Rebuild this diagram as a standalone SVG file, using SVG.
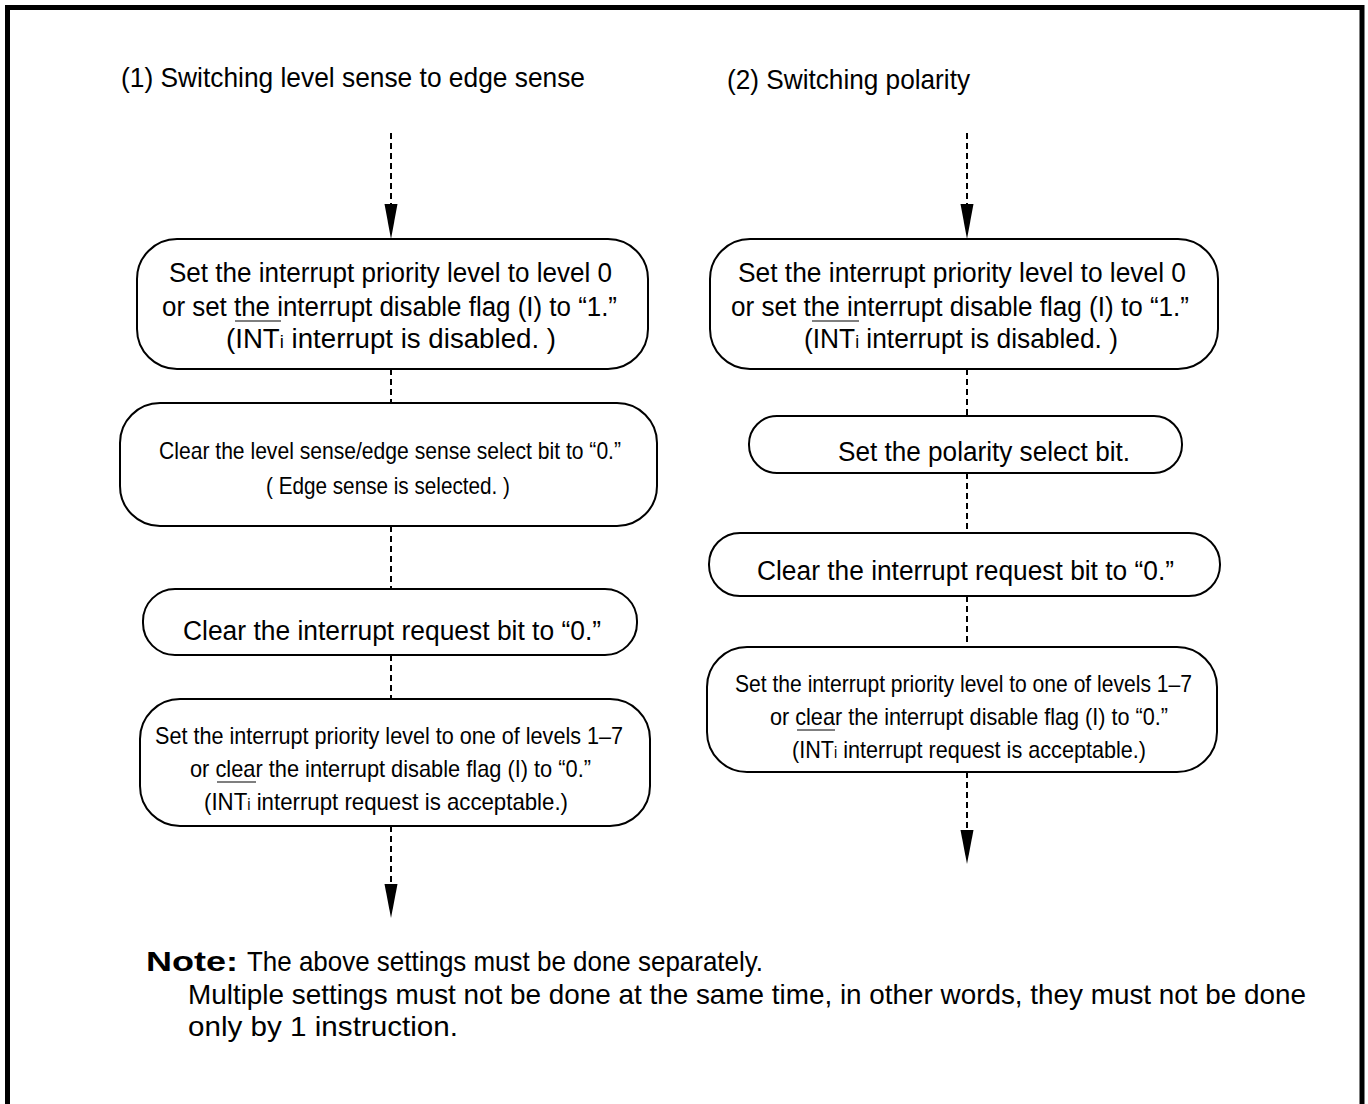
<svg xmlns="http://www.w3.org/2000/svg" width="1368" height="1104" viewBox="0 0 1368 1104">
<defs>
<style>
text{font-family:"Liberation Sans",Arial,sans-serif;fill:#000}
.t{font-size:27px}
.h{font-size:28px}
.n{font-size:28px}
.s{font-size:24px}
.box{fill:#fff;stroke:#000;stroke-width:2}
.dash{stroke:#000;stroke-width:2;stroke-dasharray:6 4;fill:none}
.ol{stroke:#555;stroke-width:1.3}
.sub{font-size:18px}
.sub2{font-size:16px}
</style>
</defs>
<rect width="1368" height="1104" fill="#fff"/>
<path d="M7.5,1104 V7.5 H1362 V1104" fill="none" stroke="#000" stroke-width="5"/>

<g id="titles">
<text class="h" x="121" y="87" textLength="464" lengthAdjust="spacingAndGlyphs">(1) Switching level sense to edge sense</text>
<text class="h" x="727" y="89" textLength="243" lengthAdjust="spacingAndGlyphs">(2) Switching polarity</text>
</g>

<g id="connectors">
<line class="dash" x1="391" y1="133" x2="391" y2="204"/>
<path d="M384.5,204 L397.5,204 L391,239 Z" fill="#000"/>
<line class="dash" x1="391" y1="369" x2="391" y2="403"/>
<line class="dash" x1="391" y1="526" x2="391" y2="589"/>
<line class="dash" x1="391" y1="655" x2="391" y2="699"/>
<line class="dash" x1="391" y1="826" x2="391" y2="884"/>
<path d="M384.5,884 L397.5,884 L391,918 Z" fill="#000"/>
<line class="dash" x1="967" y1="133" x2="967" y2="204"/>
<path d="M960.5,204 L973.5,204 L967,239 Z" fill="#000"/>
<line class="dash" x1="967" y1="369" x2="967" y2="416"/>
<line class="dash" x1="967" y1="473" x2="967" y2="533"/>
<line class="dash" x1="967" y1="596" x2="967" y2="647"/>
<line class="dash" x1="967" y1="772" x2="967" y2="830"/>
<path d="M960.5,830 L973.5,830 L967,864 Z" fill="#000"/>
</g>

<g id="L1">
<rect class="box" x="137" y="239" width="511" height="130" rx="40" ry="40"/>
<text class="t" x="169" y="282" textLength="443" lengthAdjust="spacingAndGlyphs">Set the interrupt priority level to level 0</text>
<text class="t" x="162" y="316" textLength="455" lengthAdjust="spacingAndGlyphs">or set the interrupt disable flag (I) to “1.”</text>
<text class="t" x="226" y="348" textLength="330" lengthAdjust="spacingAndGlyphs">(INT<tspan class="sub">i</tspan> interrupt is disabled. )</text>
<line class="ol" x1="235" y1="321" x2="281" y2="321"/>
</g>

<g id="L2">
<rect class="box" x="120" y="403" width="537" height="123" rx="40" ry="40"/>
<text class="s" x="159" y="459" textLength="462" lengthAdjust="spacingAndGlyphs">Clear the level sense/edge sense select bit to “0.”</text>
<text class="s" x="266" y="494" textLength="244" lengthAdjust="spacingAndGlyphs">( Edge sense is selected. )</text>
</g>

<g id="L3">
<rect class="box" x="143" y="589" width="494" height="66" rx="32" ry="32"/>
<text class="t" x="183" y="640" textLength="418" lengthAdjust="spacingAndGlyphs">Clear the interrupt request bit to “0.”</text>
</g>

<g id="L4">
<rect class="box" x="140" y="699" width="510" height="127" rx="40" ry="40"/>
<text class="s" x="155" y="744" textLength="468" lengthAdjust="spacingAndGlyphs">Set the interrupt priority level to one of levels 1–7</text>
<text class="s" x="190" y="777" textLength="401" lengthAdjust="spacingAndGlyphs">or clear the interrupt disable flag (I) to “0.”</text>
<text class="s" x="204" y="810" textLength="364" lengthAdjust="spacingAndGlyphs">(INT<tspan class="sub2">i</tspan> interrupt request is acceptable.)</text>
<line class="ol" x1="217" y1="782" x2="256" y2="782"/>
</g>

<g id="R1">
<rect class="box" x="710" y="239" width="508" height="130" rx="40" ry="40"/>
<text class="t" x="738" y="282" textLength="448" lengthAdjust="spacingAndGlyphs">Set the interrupt priority level to level 0</text>
<text class="t" x="731" y="316" textLength="458" lengthAdjust="spacingAndGlyphs">or set the interrupt disable flag (I) to “1.”</text>
<text class="t" x="804" y="348" textLength="314" lengthAdjust="spacingAndGlyphs">(INT<tspan class="sub">i</tspan> interrupt is disabled. )</text>
<line class="ol" x1="812" y1="321" x2="859" y2="321"/>
</g>

<g id="R2">
<rect class="box" x="749" y="416" width="433" height="57" rx="28" ry="28"/>
<text class="t" x="838" y="461" textLength="292" lengthAdjust="spacingAndGlyphs">Set the polarity select bit.</text>
</g>

<g id="R3">
<rect class="box" x="709" y="533" width="511" height="63" rx="31" ry="31"/>
<text class="t" x="757" y="580" textLength="417" lengthAdjust="spacingAndGlyphs">Clear the interrupt request bit to “0.”</text>
</g>

<g id="R4">
<rect class="box" x="707" y="647" width="510" height="125" rx="40" ry="40"/>
<text class="s" x="735" y="692" textLength="457" lengthAdjust="spacingAndGlyphs">Set the interrupt priority level to one of levels 1–7</text>
<text class="s" x="770" y="725" textLength="398" lengthAdjust="spacingAndGlyphs">or clear the interrupt disable flag (I) to “0.”</text>
<text class="s" x="792" y="758" textLength="354" lengthAdjust="spacingAndGlyphs">(INT<tspan class="sub2">i</tspan> interrupt request is acceptable.)</text>
<line class="ol" x1="797" y1="730" x2="835" y2="730"/>
</g>

<g id="note">
<text class="n" x="146" y="971" font-weight="bold" textLength="92" lengthAdjust="spacingAndGlyphs">Note:</text>
<text class="n" x="247" y="971" textLength="516" lengthAdjust="spacingAndGlyphs">The above settings must be done separately.</text>
<text class="n" x="188" y="1004" textLength="1118" lengthAdjust="spacingAndGlyphs">Multiple settings must not be done at the same time, in other words, they must not be done</text>
<text class="n" x="188" y="1036" textLength="270" lengthAdjust="spacingAndGlyphs">only by 1 instruction.</text>
</g>
</svg>
